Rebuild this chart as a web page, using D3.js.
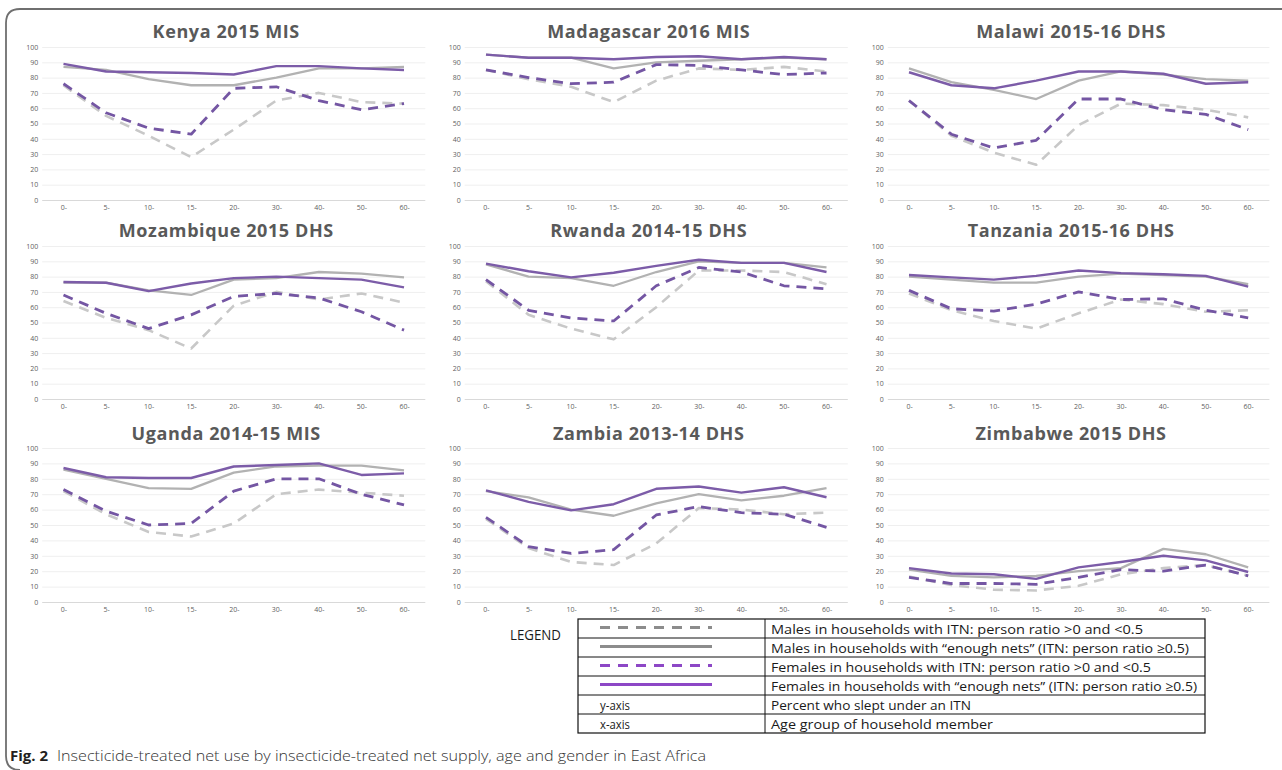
<!DOCTYPE html>
<html>
<head>
<meta charset="utf-8">
<script src="https://cdn.jsdelivr.net/npm/d3@7"></script>
<style>
  html, body { margin: 0; padding: 0; background: #fff; }
  svg { display: block; }
</style>
</head>
<body>
<svg id="chart" width="1282" height="770"></svg>
<script>
// ---------------- DATA ----------------
const countries = [
  "Kenya 2015 MIS", "Madagascar 2016 MIS", "Malawi 2015-16 DHS",
  "Mozambique 2015 DHS", "Rwanda 2014-15 DHS", "Tanzania 2015-16 DHS",
  "Uganda 2014-15 MIS", "Zambia 2013-14 DHS", "Zimbabwe 2015 DHS"
];
const ageGroups = ["0-", "5-", "10-", "15-", "20-", "30-", "40-", "50-", "60-"];
const yTicks = [0, 10, 20, 30, 40, 50, 60, 70, 80, 90, 100];

// Males in households with ITN:person ratio >0 and <0.5
const maleLow = [
  [75, 55, 42, 28, 46, 65, 70, 64, 63],
  [85, 79, 74, 64, 78, 86, 85, 87, 84],
  [65, 42, 31, 23, 49, 63, 62, 59, 54],
  [64, 53, 45, 33, 61, 70, 65, 69, 63],
  [77, 55, 46, 39, 60, 84, 84, 83, 75],
  [69, 58, 51, 46, 56, 65, 62, 57, 58],
  [72, 57, 45.5, 42.5, 51, 70, 73, 71, 69],
  [54, 35, 26, 24, 38, 61, 60, 57, 58],
  [16.5, 11, 8, 7.5, 10.5, 18, 22, 24, 17]
];
// Males in households with "enough nets"
const maleEnough = [
  [87, 85, 79, 75, 75, 80, 86, 86, 87],
  [95, 93, 93, 86, 90, 91, 92, 93, 92],
  [86, 77, 72, 66, 78, 84, 82, 79, 78],
  [76, 76, 71, 68, 78, 79, 83, 82, 79.5],
  [88, 80, 79, 74, 83, 90, 89, 89, 86],
  [80, 78, 76, 76, 80, 82, 81, 80, 75],
  [86, 80, 74, 73.5, 84, 88, 88.5, 88.5, 85.5],
  [72, 68, 60, 56, 64, 70, 66, 69, 74],
  [21, 17, 16, 17, 20, 22, 34.5, 31, 22.5]
];
// Females in households with ITN:person ratio >0 and <0.5
const femaleLow = [
  [76, 57, 47, 43, 73, 74, 65, 59, 63],
  [85, 80, 76, 77, 88.5, 88, 85, 82, 83],
  [65, 43, 34, 39, 66, 66, 59, 56, 46],
  [68, 56, 46, 55, 67, 69, 66, 57, 45],
  [78, 58, 53, 51, 74, 86, 83, 74, 72],
  [71, 59, 57.5, 62, 70, 65, 65.5, 58, 53],
  [73, 59, 50, 51, 72, 80, 80, 70, 63],
  [55, 36, 31.5, 34, 56.5, 62, 58, 57, 48.5],
  [16, 12, 12, 11.5, 16, 21, 20, 24, 17]
];
// Females in households with "enough nets"
const femaleEnough = [
  [89, 84, 83.5, 83, 82, 87.5, 87.5, 86, 85],
  [95, 93, 93, 92, 93.5, 94, 92, 93.5, 92],
  [83.5, 75, 73, 78, 84, 84, 82.5, 76, 77],
  [76.5, 76, 70.5, 75.5, 79, 80, 79, 78, 73],
  [88.5, 83.5, 79.5, 82.5, 87, 91, 89, 89, 83],
  [81, 79.5, 78, 80.5, 84, 82.3, 81.5, 80.5, 73.5],
  [87, 81, 80.5, 80.5, 88, 89, 90, 82.5, 83.5],
  [72.5, 65, 59.5, 63.5, 73.5, 75, 71, 74.5, 68],
  [22, 18.5, 18, 15, 22.5, 26, 30, 27, 19.5]
];

const legendLabels = [
  "Males in households with ITN: person ratio >0 and <0.5",
  "Males in households with \u201cenough nets\u201d (ITN: person ratio \u22650.5)",
  "Females in households with ITN: person ratio >0 and <0.5",
  "Females in households with \u201cenough nets\u201d (ITN: person ratio \u22650.5)"
];
const axisRows = [["y-axis", "Percent who slept under an ITN"], ["x-axis", "Age group of household member"]];

// ---------------- LAYOUT / STYLE ----------------
const svg = d3.select("#chart");
const colLeft = [42.2, 464.7, 887.8];
const colRight = [425.3, 847.8, 1269.4];
const rowTop = [47, 246, 448];
const rowBottom = [200, 399, 602];
const titleY = [31, 230, 433];
const FONT = "'Open Sans', sans-serif";

const seriesDefs = [
  { data: maleLow, color: "#c8c8c8", width: 2.6, dash: "10,7" },
  { data: maleEnough, color: "#b2b2b2", width: 2.3, dash: null },
  { data: femaleLow, color: "#7456a3", width: 2.8, dash: "10,7" },
  { data: femaleEnough, color: "#7c5ca8", width: 2.4, dash: null }
];

// Outer frame
svg.append("path")
  .attr("d", "M1282,9 H20 Q6,9 6,23 V756 Q6,770 20,770")
  .attr("fill", "none").attr("stroke", "#6f6f6f").attr("stroke-width", 1.8);

countries.forEach((name, i) => {
  const c = i % 3, r = Math.floor(i / 3);
  const x = d3.scalePoint().domain(ageGroups)
    .range([colLeft[c], colRight[c]]).padding(0.5);
  const y = d3.scaleLinear().domain([0, 100]).range([rowBottom[r], rowTop[r]]);
  const g = svg.append("g");

  const yAxis = d3.axisLeft(y).tickValues(yTicks).tickSize(-(colRight[c] - colLeft[c])).tickPadding(4);
  const ya = g.append("g").attr("transform", `translate(${colLeft[c]},0)`).call(yAxis);
  ya.select(".domain").remove();
  ya.selectAll(".tick line").attr("stroke", d => d === 0 ? "#d9d9d9" : "#efefef").attr("stroke-width", 1);
  ya.selectAll(".tick text").attr("fill", "#5f5f5f").style("font-family", FONT).style("font-size", "7px");

  const xAxis = d3.axisBottom(x).tickSize(0).tickPadding(5);
  const xa = g.append("g").attr("transform", `translate(0,${rowBottom[r]})`).call(xAxis);
  xa.select(".domain").remove();
  xa.selectAll(".tick text").attr("fill", "#5f5f5f").style("font-family", FONT).style("font-size", "7px");

  g.append("text")
    .attr("x", (colLeft[c] - 15 + colRight[c]) / 2)
    .attr("y", titleY[r])
    .attr("text-anchor", "middle").attr("dominant-baseline", "central")
    .style("font-family", FONT).style("font-weight", "700")
    .style("font-size", "18px").style("letter-spacing", "0.6px")
    .attr("fill", "#595959")
    .text(name);

  const line = d3.line().x((d, k) => x(ageGroups[k])).y(d => y(d));
  seriesDefs.forEach(s => {
    g.append("path")
      .datum(s.data[i])
      .attr("d", line)
      .attr("fill", "none")
      .attr("stroke", s.color)
      .attr("stroke-width", s.width)
      .attr("stroke-dasharray", s.dash)
      .attr("stroke-linejoin", "round");
  });
});

// ---------------- LEGEND TABLE ----------------
const tblLeft = 578, tblRight = 1205, tblDiv = 765, tblTop = 619, rowH = 19;
const nRows = 6;
const lg = svg.append("g");
lg.append("text").attr("x", 510).attr("y", 634).attr("dominant-baseline", "central")
  .attr("textLength", 51).attr("lengthAdjust", "spacingAndGlyphs")
  .style("font-family", FONT).style("font-size", "15px")
  .attr("fill", "#1a1a1a").text("LEGEND");
lg.append("rect").attr("x", tblLeft).attr("y", tblTop)
  .attr("width", tblRight - tblLeft).attr("height", rowH * nRows)
  .attr("fill", "none").attr("stroke", "#111").attr("stroke-width", 1.2);
d3.range(1, nRows).forEach(k => {
  lg.append("line").attr("x1", tblLeft).attr("x2", tblRight)
    .attr("y1", tblTop + k * rowH).attr("y2", tblTop + k * rowH)
    .attr("stroke", "#111").attr("stroke-width", 1);
});
lg.append("line").attr("x1", tblDiv).attr("x2", tblDiv)
  .attr("y1", tblTop).attr("y2", tblTop + rowH * nRows)
  .attr("stroke", "#111").attr("stroke-width", 1);

const legendStyles = [
  { color: "#8c8c8c", dash: "10,8" },
  { color: "#8c8c8c", dash: null },
  { color: "#8d47c6", dash: "10,8" },
  { color: "#8d47c6", dash: null }
];
const legendTextLen = [372, 418, 380, 426];
legendLabels.forEach((lab, k) => {
  const cy = tblTop + k * rowH + rowH / 2;
  lg.append("line").attr("x1", 600).attr("x2", 712)
    .attr("y1", cy - 1).attr("y2", cy - 1)
    .attr("stroke", legendStyles[k].color).attr("stroke-width", 3)
    .attr("stroke-dasharray", legendStyles[k].dash);
  lg.append("text").attr("x", 771).attr("y", cy + 0.5).attr("dominant-baseline", "central")
    .attr("textLength", legendTextLen[k]).attr("lengthAdjust", "spacingAndGlyphs")
    .style("font-family", FONT).style("font-size", "13px")
    .attr("fill", "#1a1a1a").text(lab);
});
const axisTextLen = [[30, 200], [30, 222]];
axisRows.forEach((row, j) => {
  const cy = tblTop + (4 + j) * rowH + rowH / 2;
  lg.append("text").attr("x", 600).attr("y", cy + 0.5).attr("dominant-baseline", "central")
    .attr("textLength", axisTextLen[j][0]).attr("lengthAdjust", "spacingAndGlyphs")
    .style("font-family", FONT).style("font-size", "13px")
    .attr("fill", "#1a1a1a").text(row[0]);
  lg.append("text").attr("x", 771).attr("y", cy + 0.5).attr("dominant-baseline", "central")
    .attr("textLength", axisTextLen[j][1]).attr("lengthAdjust", "spacingAndGlyphs")
    .style("font-family", FONT).style("font-size", "13px")
    .attr("fill", "#1a1a1a").text(row[1]);
});

// ---------------- CAPTION ----------------
svg.append("text").attr("x", 10).attr("y", 761)
  .attr("textLength", 38).attr("lengthAdjust", "spacingAndGlyphs")
  .style("font-family", FONT).style("font-size", "15px").style("font-weight", "700")
  .attr("fill", "#231f20").text("Fig. 2");
svg.append("text").attr("x", 57).attr("y", 761)
  .attr("textLength", 649).attr("lengthAdjust", "spacingAndGlyphs")
  .style("font-family", FONT).style("font-size", "15px").style("font-weight", "300")
  .attr("fill", "#333")
  .text("Insecticide-treated net use by insecticide-treated net supply, age and gender in East Africa");
</script>
</body>
</html>
